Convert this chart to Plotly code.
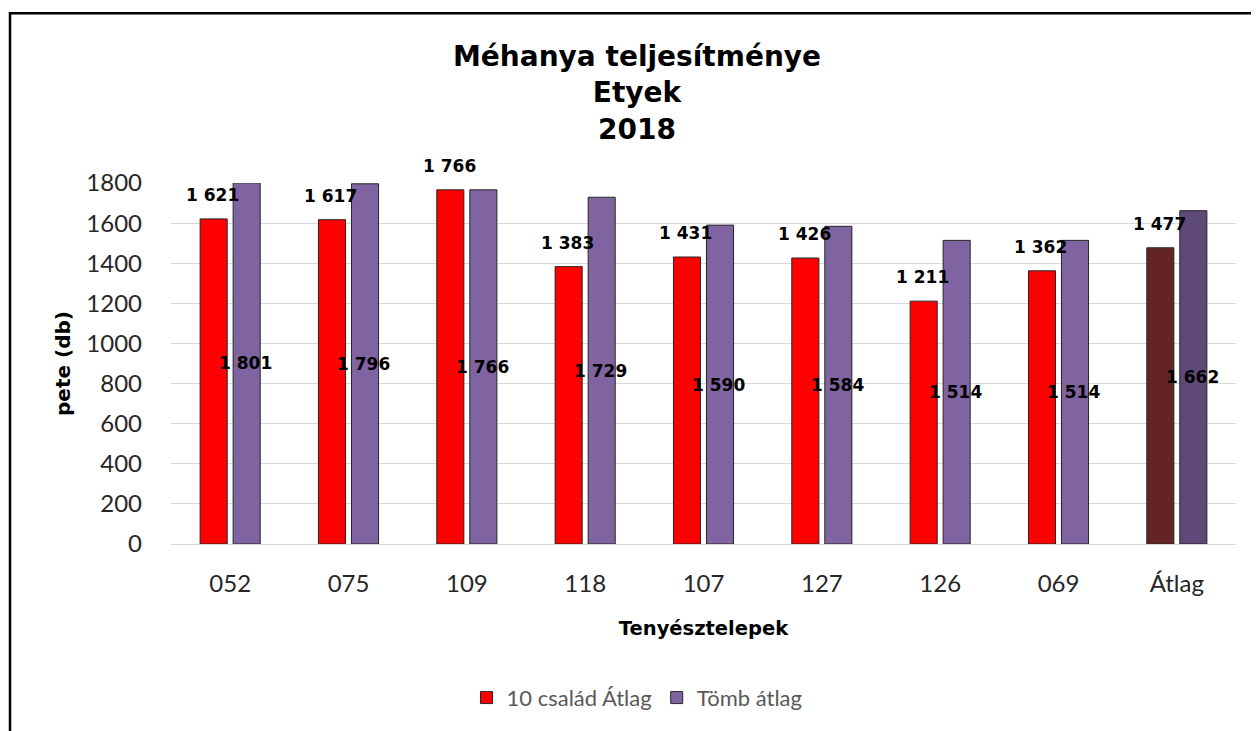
import plotly.graph_objects as go

categories = ["052", "075", "109", "118", "107", "127", "126", "069", "Átlag"]
csalad_atlag = [1621, 1617, 1766, 1383, 1431, 1426, 1211, 1362, 1477]
tomb_atlag = [1801, 1796, 1766, 1729, 1590, 1584, 1514, 1514, 1662]
series_names = ["10 család Átlag", "Tömb átlag"]
y_ticks = [0, 200, 400, 600, 800, 1000, 1200, 1400, 1600, 1800]
title_lines = ["Méhanya teljesítménye", "Etyek", "2018"]

red_colors = ["#FF0000"] * 8 + ["#632523"]
purple_colors = ["#8064A2"] * 8 + ["#5F497A"]

REG = "Lato, 'Open Sans', sans-serif"
BOLD = "'DejaVu Sans', Verdana, sans-serif"


def fmt(v):
    return f"{v:,}".replace(",", " ")


fig = go.Figure()
fig.add_trace(go.Bar(
    x=categories, y=csalad_atlag, name=series_names[0],
    marker=dict(color=red_colors, line=dict(color="#262626", width=1)),
))
fig.add_trace(go.Bar(
    x=categories, y=tomb_atlag, name=series_names[1],
    marker=dict(color=purple_colors, line=dict(color="#262626", width=1)),
))

annotations = []
for i, v in enumerate(csalad_atlag):
    annotations.append(dict(
        x=i - 0.15, y=v, xref="x", yref="y", text=f"<b>{fmt(v)}</b>",
        showarrow=False, yshift=24, font=dict(family=BOLD, size=17, color="#000000"),
    ))
for i, v in enumerate(tomb_atlag):
    annotations.append(dict(
        x=i + 0.13, y=v / 2, xref="x", yref="y", text=f"<b>{fmt(v)}</b>",
        showarrow=False, font=dict(family=BOLD, size=17, color="#000000"),
    ))
annotations.append(dict(
    x=0.4376, y=1.2486, xref="paper", yref="paper", xanchor="center", yanchor="middle",
    text="<b>" + "<br>".join(title_lines) + "</b>", showarrow=False,
    font=dict(family=BOLD, size=28, color="#000000"),
))

fig.update_layout(
    width=1251, height=723,
    paper_bgcolor="white", plot_bgcolor="white",
    margin=dict(l=163, r=23, t=175, b=182),
    font=dict(family=REG, color="#404040"),
    barmode="group", bargap=0.442, bargroupgap=0.18,
    xaxis=dict(
        tickfont=dict(family=REG, size=24, color="#262626"),
        showline=True, linecolor="#D9D9D9", linewidth=1,
        ticks="", ticklabelstandoff=18,
        title=dict(text="<b>Tenyésztelepek</b>", font=dict(family=BOLD, size=19.5, color="#000000"), standoff=25),
    ),
    yaxis=dict(
        range=[0, 1800], tickvals=y_ticks,
        tickfont=dict(family=REG, size=24, color="#262626"),
        showgrid=True, gridcolor="#D9D9D9", gridwidth=1,
        zeroline=False, ticks="", ticklabelstandoff=28,
        title=dict(text="<b>pete (db)</b>", font=dict(family=BOLD, size=20, color="#000000"), standoff=10),
    ),
    legend=dict(
        orientation="h", x=0.4376, xanchor="center", y=-0.426, yanchor="middle",
        font=dict(family=REG, size=22, color="#595959"), itemwidth=30,
    ),
    annotations=annotations,
    shapes=[dict(
        type="rect", xref="paper", yref="paper",
        x0=(2 - 163) / 1065, x1=1.2, y0=-0.7, y1=(541 - 3) / 366,
        line=dict(color="#000000", width=2.5), fillcolor="rgba(0,0,0,0)", layer="above",
    )],
)

fig.write_html("out.html")
